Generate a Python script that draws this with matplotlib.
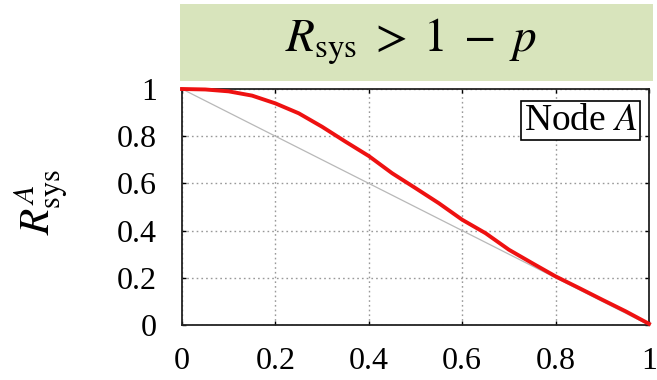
import matplotlib
matplotlib.use("Agg")
import matplotlib.pyplot as plt
from matplotlib.patches import Rectangle
import numpy as np

p = [0.0, 0.05, 0.1, 0.15, 0.2, 0.25, 0.3, 0.35, 0.4, 0.45, 0.5, 0.55, 0.6,
     0.65, 0.7, 0.75, 0.8, 0.85, 0.9, 0.95, 1.0]
r_sys = [1.0, 0.998, 0.99, 0.972, 0.939, 0.897, 0.84, 0.777, 0.716, 0.643,
         0.58, 0.516, 0.446, 0.389, 0.319, 0.262, 0.206, 0.157, 0.107, 0.058, 0.005]
ref_p = [0.0, 1.0]
ref_r = [1.0, 0.0]
ticks = [0, 0.2, 0.4, 0.6, 0.8, 1]
tick_labels = ["0", "0.2", "0.4", "0.6", "0.8", "1"]

plt.rcParams['mathtext.fontset'] = 'stix'
serif = ['Liberation Serif', 'DejaVu Serif']

fig = plt.figure(figsize=(6.57, 3.8), dpi=100)

# green banner
fig.patches.append(Rectangle((180/657, 1 - 81/380), (653-180)/657, (81-4)/380,
                             transform=fig.transFigure, facecolor='#d8e4bc',
                             edgecolor='none', zorder=0))
fig.text(411/657, 1 - 42/380, r'$R_{\mathrm{sys}}\;>\;1\;-\;p$', fontsize=34,
         ha='center', va='center', color='black')

ax = fig.add_axes([182/657, 1 - 325/380, (649-182)/657, (325-89)/380])
ax.plot(ref_p, ref_r, color='#b8b8b8', lw=0.9, zorder=2)
ax.plot(p, r_sys, color='#ee1111', lw=2.8, zorder=3, clip_on=False)

ax.set_xlim(0, 1)
ax.set_ylim(0, 1)
ax.set_xticks(ticks)
ax.set_yticks(ticks)
ax.set_xticklabels(tick_labels, fontfamily=serif, fontsize=23)
ax.set_yticklabels(tick_labels, fontfamily=serif, fontsize=23)
ax.tick_params(direction='in', length=3, width=1, top=True, right=True)
ax.tick_params(axis='y', pad=18)
ax.tick_params(axis='x', pad=16)
ax.grid(True, color='#999999', linestyle=(0, (1.2, 2.2)), linewidth=1)
for s in ax.spines.values():
    s.set_linewidth(1.3)
    s.set_color('#222222')

ax.text(0.975, 0.94, r'Node $A$', transform=ax.transAxes, ha='right', va='top',
        fontfamily=serif, fontsize=27,
        bbox=dict(boxstyle='square,pad=0.06', facecolor='white', edgecolor='black', lw=1.2))

fig.text(42/657, 1 - 202/380, r'$R^{A}_{\mathrm{sys}}$', rotation=90, fontsize=31,
         ha='center', va='center')

fig.savefig('out.png', dpi=100)
